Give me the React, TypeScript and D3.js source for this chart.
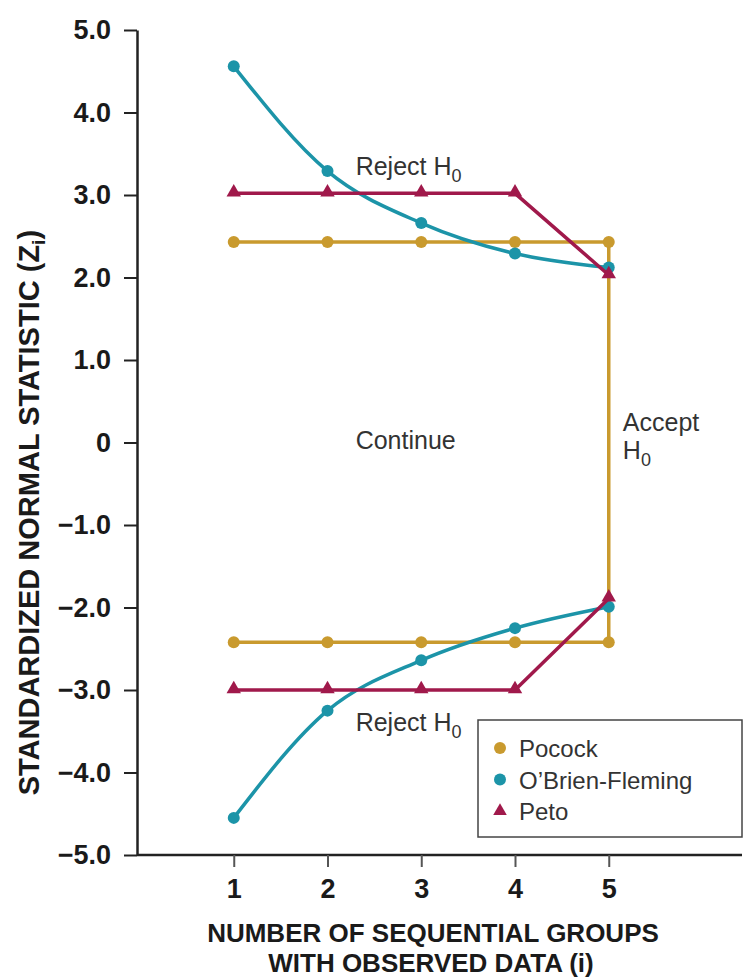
import React, { useEffect, useRef } from "react";
import * as d3 from "d3";

// groups (i)
const groups = [1, 2, 3, 4, 5];

// boundary values
const pocockUpper = [2.43, 2.43, 2.43, 2.43, 2.43];
const pocockLower = [-2.42, -2.42, -2.42, -2.42, -2.42];
const obfUpper = [4.56, 3.29, 2.66, 2.29, 2.12];
const obfLower = [-4.55, -3.25, -2.64, -2.25, -1.99];
const petoUpper = [3.02, 3.02, 3.02, 3.02, 2.03];
const petoLower = [-3.0, -3.0, -3.0, -3.0, -1.89];

const yTicks = [5, 4, 3, 2, 1, 0, -1, -2, -3, -4, -5];
const yTickLabels = ["5.0", "4.0", "3.0", "2.0", "1.0", "0", "\u22121.0", "\u22122.0", "\u22123.0", "\u22124.0", "\u22125.0"];

const seriesNames = ["Pocock", "O\u2019Brien-Fleming", "Peto"];
const seriesColors = ["#C99A2E", "#1C94A8", "#A0194B"];

const W = 744;
const H = 978;
const FONT = "'Liberation Sans', Arial, Helvetica, sans-serif";

function App() {
  const svgRef = useRef<SVGSVGElement>(null);

  useEffect(() => {
    const svg = d3.select(svgRef.current);
    svg.selectAll("*").remove();

    const x = d3.scaleLinear().domain([0, 6.4]).range([140, 740]);
    const y = d3.scaleLinear().domain([-5, 5]).range([855, 30]);
    const axisX0 = 137;

    // y axis
    const yAxis = svg
      .append("g")
      .attr("transform", `translate(${axisX0},0)`)
      .call(
        d3
          .axisLeft(y)
          .tickValues(yTicks)
          .tickSize(13)
          .tickSizeOuter(0)
          .tickPadding(13)
          .tickFormat((d, i) => yTickLabels[i])
      );
    yAxis.select(".domain").attr("stroke", "#222").attr("stroke-width", 2.5);
    yAxis.selectAll(".tick line").attr("stroke", "#222").attr("stroke-width", 2);
    yAxis
      .selectAll(".tick text")
      .attr("fill", "#1a1a1a")
      .style("font-family", FONT)
      .style("font-size", "27px")
      .style("font-weight", "bold");

    // x axis
    const xAxis = svg
      .append("g")
      .attr("transform", `translate(0,${y(-5)})`)
      .call(
        d3
          .axisBottom(x)
          .tickValues(groups)
          .tickSize(12)
          .tickSizeOuter(0)
          .tickPadding(12)
          .tickFormat(d3.format("d"))
      );
    xAxis.select(".domain").attr("d", `M${axisX0},0H${W - 2}`).attr("stroke", "#222").attr("stroke-width", 2.5);
    xAxis.selectAll(".tick line").attr("stroke", "#555").attr("stroke-width", 2);
    xAxis
      .selectAll(".tick text")
      .attr("fill", "#1a1a1a")
      .style("font-family", FONT)
      .style("font-size", "27px")
      .style("font-weight", "bold");

    // axis titles
    const yTitle = svg
      .append("text")
      .attr("transform", `translate(39,${y(-0.85)}) rotate(-90)`)
      .attr("text-anchor", "middle")
      .attr("fill", "#1a1a1a")
      .style("font-family", FONT)
      .style("font-size", "29px")
      .style("font-weight", "bold");
    yTitle.append("tspan").text("STANDARDIZED NORMAL STATISTIC (Z");
    yTitle.append("tspan").attr("dy", 6).style("font-size", "19px").text("i");
    yTitle.append("tspan").attr("dy", -6).text(")");

    const xTitle = svg
      .append("text")
      .attr("text-anchor", "middle")
      .attr("fill", "#1a1a1a")
      .style("font-family", FONT)
      .style("font-size", "26px")
      .style("font-weight", "bold");
    xTitle.append("tspan").attr("x", 433).attr("y", 942).text("NUMBER OF SEQUENTIAL GROUPS");
    xTitle.append("tspan").attr("x", 431).attr("y", 972).text("WITH OBSERVED DATA (i)");

    const line = d3
      .line<number>()
      .x((d, i) => x(groups[i]))
      .y((d) => y(d));

    // Pocock: upper, drop at i=5, lower back
    const pocockPts = groups
      .map((g, i) => [x(g), y(pocockUpper[i])] as [number, number])
      .concat(groups.map((g, i) => [x(g), y(pocockLower[i])] as [number, number]).reverse());
    svg
      .append("path")
      .attr("d", d3.line()(pocockPts))
      .attr("fill", "none")
      .attr("stroke", seriesColors[0])
      .attr("stroke-width", 3.5);
    [pocockUpper, pocockLower].forEach((arr) => {
      svg
        .append("g")
        .selectAll("circle")
        .data(arr)
        .join("circle")
        .attr("cx", (d, i) => x(groups[i]))
        .attr("cy", (d) => y(d))
        .attr("r", 6)
        .attr("fill", seriesColors[0]);
    });

    // O'Brien-Fleming
    const curved = d3
      .line<number>()
      .x((d, i) => x(groups[i]))
      .y((d) => y(d))
      .curve(d3.curveMonotoneX);
    [obfUpper, obfLower].forEach((arr) => {
      svg
        .append("path")
        .attr("d", curved(arr))
        .attr("fill", "none")
        .attr("stroke", seriesColors[1])
        .attr("stroke-width", 3.5);
      svg
        .append("g")
        .selectAll("circle")
        .data(arr)
        .join("circle")
        .attr("cx", (d, i) => x(groups[i]))
        .attr("cy", (d) => y(d))
        .attr("r", 6)
        .attr("fill", seriesColors[1]);
    });

    // Peto
    const tri = d3.symbol().type(d3.symbolTriangle).size(90);
    [petoUpper, petoLower].forEach((arr) => {
      svg
        .append("path")
        .attr("d", line(arr))
        .attr("fill", "none")
        .attr("stroke", seriesColors[2])
        .attr("stroke-width", 3.5);
      svg
        .append("g")
        .selectAll("path")
        .data(arr)
        .join("path")
        .attr("d", tri()!)
        .attr("transform", (d, i) => `translate(${x(groups[i])},${y(d) - 1})`)
        .attr("fill", seriesColors[2]);
    });

    // annotations
    const note = (tx: number, ty: number, main: string, sub?: string) => {
      const t = svg
        .append("text")
        .attr("x", x(tx))
        .attr("y", y(ty))
        .attr("fill", "#333")
        .style("font-family", FONT)
        .style("font-size", "25px");
      t.append("tspan").text(main);
      if (sub) t.append("tspan").attr("dy", 7).style("font-size", "18px").text(sub);
    };
    note(2.3, 3.24, "Reject H", "0");
    note(2.3, -3.5, "Reject H", "0");
    note(2.3, -0.08, "Continue");
    note(5.15, 0.14, "Accept");
    note(5.15, -0.2, "H", "0");

    // legend
    const lg = svg.append("g");
    lg.append("rect")
      .attr("x", 478)
      .attr("y", 720)
      .attr("width", W - 2 - 478)
      .attr("height", 117)
      .attr("fill", "#fff")
      .attr("stroke", "#444")
      .attr("stroke-width", 1.5);
    seriesNames.forEach((name, i) => {
      const cy = 748 + i * 31.5;
      if (i < 2) {
        lg.append("circle").attr("cx", 500).attr("cy", cy).attr("r", 6).attr("fill", seriesColors[i]);
      } else {
        lg.append("path")
          .attr("d", d3.symbol().type(d3.symbolTriangle).size(80)()!)
          .attr("transform", `translate(500,${cy})`)
          .attr("fill", seriesColors[i]);
      }
      lg.append("text")
        .attr("x", 519)
        .attr("y", cy + 9)
        .attr("fill", "#333")
        .style("font-family", FONT)
        .style("font-size", "24px")
        .text(name);
    });
  }, []);

  return (
    <svg
      ref={svgRef}
      width={W}
      height={H}
      style={{ position: "absolute", left: 0, top: 0, background: "#fff" }}
    />
  );
}

export default App;
